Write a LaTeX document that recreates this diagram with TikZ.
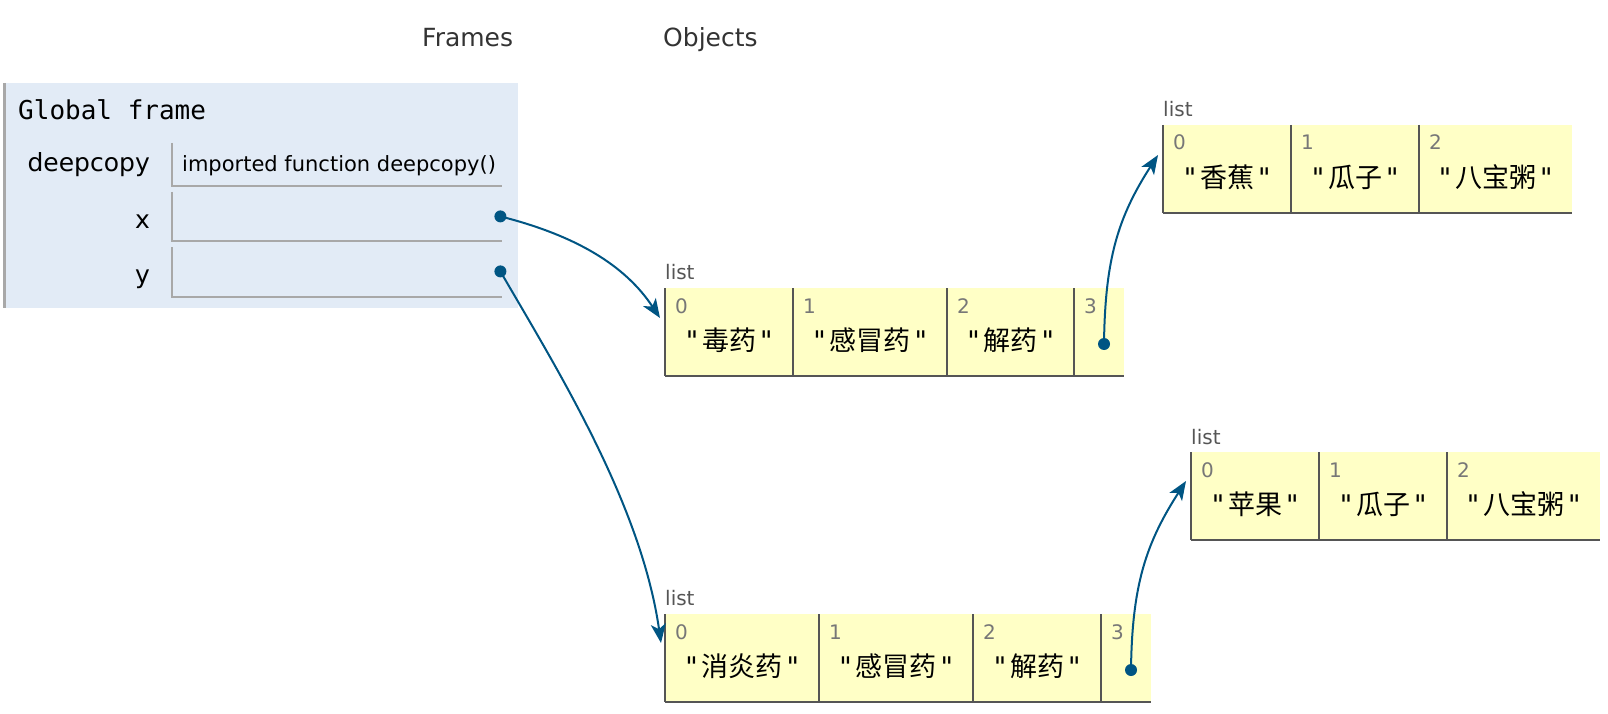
\documentclass[tikz,border=0pt]{standalone}
\usepackage{fontspec}
\setmainfont{DejaVu Sans}
\newfontfamily\cjkf{Noto Sans CJK SC}
\newfontfamily\quotef{DejaVu Sans}
\newfontfamily\monof{DejaVu Sans Mono}
\usetikzlibrary{arrows.meta}
\definecolor{framebg}{HTML}{E2EBF6}
\definecolor{frameline}{HTML}{A8A8A8}
\definecolor{listbg}{HTML}{FFFFC6}
\definecolor{listline}{HTML}{555555}
\definecolor{idxc}{HTML}{777777}
\definecolor{arrowc}{HTML}{005583}
\definecolor{headc}{HTML}{333333}
\newcommand\mkcell[6]{%
  \node[cellbox, minimum width=#4] (#1) at (#2,#3) {};
  \node[idxlbl, anchor=base west] (#1i) at ([shift={(10,25)}]#1.north west) {#5};
  \node[vallbl] (#1v) at ([shift={(0,52)}]#1.north) {#6};
  \draw[listborder] (#1.north west) -- (#1.south west);
}
\newcommand\qv[1]{{\quotef "}\kern4pt{\cjkf #1}\kern4pt{\quotef "}}
\begin{document}
\begin{tikzpicture}[x=1pt,y=-1pt,
  head/.style={font=\fontsize{25}{30}\selectfont, text=headc, inner sep=0, anchor=base west},
  varlbl/.style={font=\fontsize{25}{30}\selectfont, inner sep=0, anchor=base east},
  framecell/.style={draw=none, inner sep=0, anchor=north west, minimum width=330, minimum height=43},
  cellline/.style={draw=frameline, line width=2},
  cellbox/.style={fill=listbg, draw=none, inner sep=0, anchor=north west, minimum height=88},
  idxlbl/.style={font=\fontsize{20}{24}\selectfont, text=idxc, inner sep=0},
  vallbl/.style={font=\fontsize{27}{30}\selectfont, inner sep=0},
  listlbl/.style={font=\fontsize{20}{24}\selectfont, text=listline, inner sep=0, anchor=base west},
  listborder/.style={draw=listline, line width=2},
  ptr/.style={draw=arrowc, line width=2, -{Stealth[length=19pt,width=15pt,inset=5pt]}},
  dotc/.style={fill=arrowc}
]
\useasboundingbox (0,0) rectangle (1608,714);

% headers
\node[head] (hframes) at (422,47) {Frames};
\node[head] (hobjects) at (663,47) {Objects};

% global frame
\node[fill=framebg, draw=none, inner sep=0, anchor=north west, minimum width=514, minimum height=225] (gf) at (4,83) {};
\draw[draw=frameline, line width=3] (gf.north west) -- (gf.south west);
\node[inner sep=0, anchor=base west, font=\monof\fontsize{26}{30}\selectfont] (gft) at (18,120) {Global frame};

\node[framecell] (vdc) at (172,143) {};
\draw[cellline] (vdc.north west) -- (vdc.south west) -- (vdc.south east);
\node[inner sep=0, anchor=base west, font=\fontsize{21}{25}\selectfont] (vdct) at (182,172) {imported function deepcopy()};
\node[varlbl] (ldc) at (150,172) {deepcopy};

\node[framecell, minimum height=49] (vx) at (172,192) {};
\draw[cellline] (vx.north west) -- (vx.south west) -- (vx.south east);
\node[varlbl] (lx) at (150,228) {x};

\node[framecell, minimum height=50] (vy) at (172,247) {};
\draw[cellline] (vy.north west) -- (vy.south west) -- (vy.south east);
\node[varlbl] (ly) at (150,283) {y};

\coordinate (xd) at ([shift={(-2,-25)}]vx.south east);
\coordinate (yd) at ([shift={(-2,-26)}]vy.south east);

% list 1 (x)
\node[listlbl] (l1lbl) at (665,279) {list};
\mkcell{Aa}{665}{288}{128}{0}{\qv{毒药}}
\mkcell{Ab}{793}{288}{154}{1}{\qv{感冒药}}
\mkcell{Ac}{947}{288}{127}{2}{\qv{解药}}
\mkcell{Ad}{1074}{288}{50}{3}{}
\draw[listborder] (Aa.south west) -- (Ad.south east);

% list 2 (top right)
\node[listlbl] (l2lbl) at (1163,117) {list};
\mkcell{Ba}{1163}{125}{128}{0}{\qv{香蕉}}
\mkcell{Bb}{1291}{125}{128}{1}{\qv{瓜子}}
\mkcell{Bc}{1419}{125}{153}{2}{\qv{八宝粥}}
\draw[listborder] (Ba.south west) -- (Bc.south east);

% list 3 (y)
\node[listlbl] (l3lbl) at (665,605) {list};
\mkcell{Ca}{665}{614}{154}{0}{\qv{消炎药}}
\mkcell{Cb}{819}{614}{154}{1}{\qv{感冒药}}
\mkcell{Cc}{973}{614}{128}{2}{\qv{解药}}
\mkcell{Cd}{1101}{614}{50}{3}{}
\draw[listborder] (Ca.south west) -- (Cd.south east);

% list 4 (bottom right)
\node[listlbl] (l4lbl) at (1191,444) {list};
\mkcell{Da}{1191}{452}{128}{0}{\qv{苹果}}
\mkcell{Db}{1319}{452}{128}{1}{\qv{瓜子}}
\mkcell{Dc}{1447}{452}{153}{2}{\qv{八宝粥}}
\draw[listborder] (Da.south west) -- (Dc.south east);

% pointer ends
\coordinate (Ain) at ([shift={(-5,30)}]Aa.north west);
\coordinate (Bin) at ([shift={(-5,30)}]Ba.north west);
\coordinate (Cin) at ([shift={(-4,29)}]Ca.north west);
\coordinate (Din) at ([shift={(-5,29)}]Da.north west);
\coordinate (Adot) at ([shift={(30,56)}]Ad.north west);
\coordinate (Cdot) at ([shift={(30,56)}]Cd.north west);

% dots
\fill[dotc] (xd) circle (6);
\fill[dotc] (yd) circle (6);
\fill[dotc] (Adot) circle (6);
\fill[dotc] (Cdot) circle (6);

% pointers
\draw[ptr] (xd) .. controls +(75,19) and +(-35,-53) .. (Ain);
\draw[ptr] (yd) .. controls +(55,95) and +(-20,-140) .. (Cin);
\draw[ptr] (Adot) .. controls +(1,-85) and +(-40,62) .. (Bin);
\draw[ptr] (Cdot) .. controls +(1,-85) and +(-40,62) .. (Din);
\end{tikzpicture}
\end{document}
